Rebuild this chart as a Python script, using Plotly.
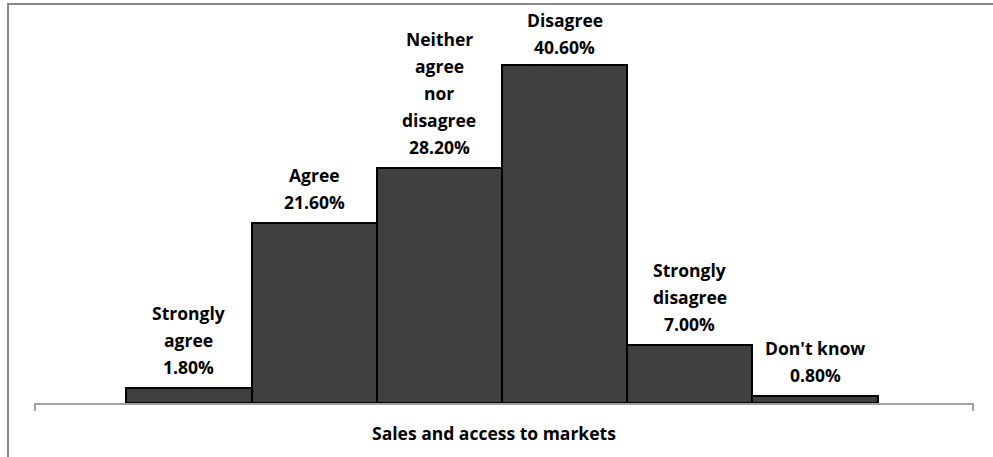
import plotly.graph_objects as go

# Survey responses: "Sales and access to markets"
categories = ["Strongly agree", "Agree", "Neither agree nor disagree",
              "Disagree", "Strongly disagree", "Don't know"]
label_lines = [["Strongly", "agree"], ["Agree"], ["Neither", "agree", "nor", "disagree"],
               ["Disagree"], ["Strongly", "disagree"], ["Don't know"]]
values = [1.8, 21.6, 28.2, 40.6, 7.0, 0.8]
axis_title = "Sales and access to markets"

W, H = 993, 457
ML, MR, MT, MB = 35, 20, 10, 54
PLOT_W = W - ML - MR
PLOT_H = H - MT - MB
Y_MAX = 47.2
LABEL_CEIL = 40.25         # labels never start higher than this level
LINE_STEP = 27             # px between stacked label lines
LABEL_GAP = 7              # px between bar top and bottom label line

FONT = dict(family="Open Sans", size=17.5, color="#000000", weight="bold")

fig = go.Figure()
fig.add_trace(go.Bar(
    x=categories, y=values,
    marker=dict(color="#404040", line=dict(color="#000000", width=2)),
    hoverinfo="x+y",
))

# stacked data labels above each bar
for cat, lines, v in zip(categories, label_lines, values):
    stack = lines + [f"{v:.2f}%"]
    anchor = min(v, LABEL_CEIL)
    for k, txt in enumerate(reversed(stack)):
        fig.add_annotation(
            x=cat, y=anchor, xref="x", yref="y", text=txt, showarrow=False,
            yanchor="bottom", xanchor="center", yshift=LABEL_GAP + k * LINE_STEP,
            font=FONT,
        )

# axis title
fig.add_annotation(
    x=(494 - ML) / PLOT_W, y=0, xref="paper", yref="paper", text=axis_title,
    showarrow=False, yanchor="middle", xanchor="center", yshift=-30, font=FONT,
)

tick_len = 8 / PLOT_H
shapes = [
    # end tick marks of the category axis
    dict(type="line", xref="paper", yref="paper", x0=0, x1=0, y0=0, y1=-tick_len,
         line=dict(color="#a0a0a0", width=2)),
    dict(type="line", xref="paper", yref="paper", x0=1, x1=1, y0=0, y1=-tick_len,
         line=dict(color="#a0a0a0", width=2)),
    # chart frame
    dict(type="rect", xref="paper", yref="paper",
         x0=(8 - ML) / PLOT_W, x1=1.2, y0=-0.5, y1=(H - MB - 4) / PLOT_H,
         line=dict(color="#878787", width=2), layer="below"),
]

fig.update_layout(
    width=W, height=H,
    margin=dict(l=ML, r=MR, t=MT, b=MB),
    paper_bgcolor="white", plot_bgcolor="white",
    showlegend=False, bargap=0,
    shapes=shapes,
    xaxis=dict(type="category", range=[-1.229, 6.261], showticklabels=False,
               showline=True, linecolor="#a0a0a0", linewidth=2, ticks="",
               showgrid=False, zeroline=False, fixedrange=True),
    yaxis=dict(range=[0, Y_MAX], visible=False, showgrid=False, zeroline=False,
               fixedrange=True),
)

fig.write_html("out.html", config={"displayModeBar": False})
